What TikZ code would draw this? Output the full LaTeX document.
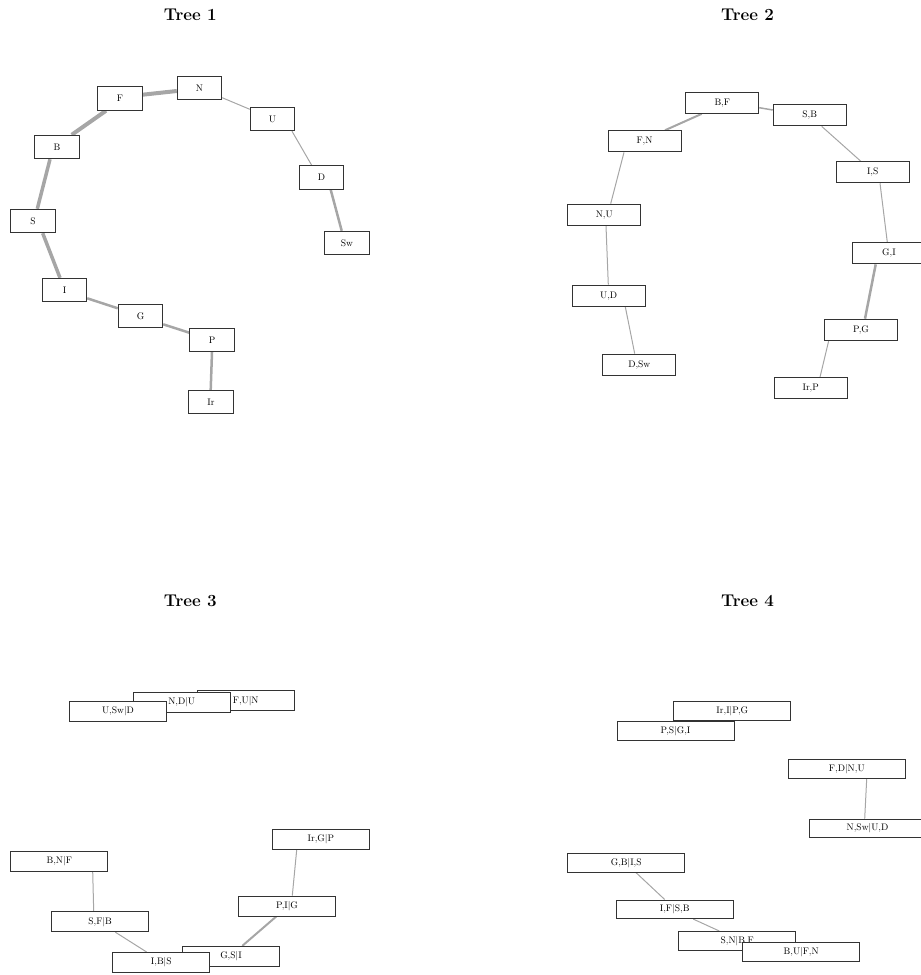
\documentclass[tikz,border=0pt]{standalone}
\usepackage{tikz}
\usetikzlibrary{backgrounds}
\tikzset{
  bloc/.style 2 args={rectangle, draw=black!80, fill=white, line width=0.9pt,
                      minimum width=#1, minimum height=#2, inner sep=0pt,
                      font=\fontsize{9.5}{10}\selectfont},
  lien/.style={draw=gray!70, line width=#1},
  titre/.style={anchor=base, font=\fontsize{17}{20}\selectfont\bfseries},
}

\begin{document}
\begin{tikzpicture}[x=1pt, y=-1pt]
\useasboundingbox (0,0) rectangle (921,975);
% titles
\node[titre] (t1) at (190.3,20.7) {Tree 1};
\node[titre] (t2) at (747.5,20.7) {Tree 2};
\node[titre] (t3) at (190.3,606) {Tree 3};
\node[titre] (t4) at (747.5,606) {Tree 4};
% Tree 1
\node[bloc={44.5pt}{23.5pt}] (aN) at (199.5,88) {N};
\node[bloc={44.5pt}{23.5pt}] (aU) at (272.5,119) {U};
\node[bloc={44.5pt}{23.5pt}] (aD) at (321.5,177.5) {D};
\node[bloc={44.5pt}{23.5pt}] (aSw) at (347,243) {Sw};
\node[bloc={44.5pt}{23.5pt}] (aF) at (120,98.5) {F};
\node[bloc={44.5pt}{23.5pt}] (aB) at (57,147) {B};
\node[bloc={44.5pt}{23.5pt}] (aS) at (33,221) {S};
\node[bloc={44.5pt}{23.5pt}] (aI) at (64.5,290) {I};
\node[bloc={44.5pt}{23.5pt}] (aG) at (140.5,316) {G};
\node[bloc={44.5pt}{23.5pt}] (aP) at (212,340) {P};
\node[bloc={44.5pt}{23.5pt}] (aIr) at (211,402) {Ir};
% Tree 2
\node[bloc={73pt}{21.2pt}] (bBF) at (722.3,102.8) {B,F};
\node[bloc={73pt}{21.2pt}] (bSB) at (809.7,115.3) {S,B};
\node[bloc={73pt}{21.2pt}] (bFN) at (644.5,141.3) {F,N};
\node[bloc={73pt}{21.2pt}] (bIS) at (872.7,172.2) {I,S};
\node[bloc={73pt}{21.2pt}] (bNU) at (604.2,214.7) {N,U};
\node[bloc={73pt}{21.2pt}] (bGI) at (889,253.3) {G,I};
\node[bloc={73pt}{21.2pt}] (bUD) at (608.7,295.7) {U,D};
\node[bloc={73pt}{21.2pt}] (bPG) at (861,329.7) {P,G};
\node[bloc={73pt}{21.2pt}] (bDSw) at (639.3,364.7) {D,Sw};
\node[bloc={73pt}{21.2pt}] (bIrP) at (810.7,388.2) {Ir,P};
% Tree 3
\node[bloc={97pt}{20pt}] (cFUN) at (245.7,700.7) {F,U|N};
\node[bloc={97pt}{20pt}] (cNDU) at (181.7,702.3) {N,D|U};
\node[bloc={97pt}{20pt}] (cUSwD) at (118,711.3) {U,Sw|D};
\node[bloc={97pt}{20pt}] (cBNF) at (59.3,861) {B,N|F};
\node[bloc={97pt}{20pt}] (cSFB) at (100.2,921.7) {S,F|B};
\node[bloc={97pt}{20pt}] (cGSI) at (231,956.3) {G,S|I};
\node[bloc={97pt}{20pt}] (cIBS) at (161.3,962.5) {I,B|S};
\node[bloc={97pt}{20pt}] (cPIG) at (287,906) {P,I|G};
\node[bloc={97pt}{20pt}] (cIrGP) at (320.8,839.3) {Ir,G|P};
% Tree 4
\node[bloc={117pt}{18.7pt}] (dIrIPG) at (732.3,710.8) {Ir,I|P,G};
\node[bloc={117pt}{18.7pt}] (dPSGI) at (675.5,731) {P,S|G,I};
\node[bloc={117pt}{18.7pt}] (dFDNU) at (846.8,768.8) {F,D|N,U};
\node[bloc={117pt}{18.7pt}] (dNSwUD) at (867.5,828.5) {N,Sw|U,D};
\node[bloc={117pt}{18.7pt}] (dGBIS) at (626.2,862.8) {G,B|I,S};
\node[bloc={117pt}{18.7pt}] (dIFSB) at (674.7,909.3) {I,F|S,B};
\node[bloc={117pt}{18.7pt}] (dSNBF) at (737.2,940.8) {S,N|B,F};
\node[bloc={117pt}{18.7pt}] (dBUFN) at (801.2,952) {B,U|F,N};
% edges behind the boxes
\begin{pgfonlayer}{background}
\draw[lien=4pt] ([yshift=3.8pt]aF.east) -- ([yshift=-3pt]aN.west);
\draw[lien=1pt] ([yshift=-9.7pt]aN.east) -- ([yshift=9.7pt]aU.west);
\draw[lien=1pt] ([xshift=19.5pt]aU.south) -- ([xshift=-9.8pt]aD.north);
\draw[lien=2.5pt] ([xshift=9.2pt]aD.south) -- ([xshift=-5.3pt]aSw.north);
\draw[lien=4pt] ([xshift=-14pt]aF.south) -- ([xshift=14.7pt]aB.north);
\draw[lien=3.5pt] ([xshift=-7pt]aB.south) -- ([xshift=4.3pt]aS.north);
\draw[lien=3.5pt] ([xshift=9.7pt]aS.south) -- ([xshift=-4.5pt]aI.north);
\draw[lien=2.5pt] ([yshift=-8.3pt]aI.east) -- ([yshift=7.7pt]aG.west);
\draw[lien=2.5pt] ([yshift=-8.3pt]aG.east) -- ([yshift=7.3pt]aP.west);
\draw[lien=2.5pt] (aP.south) -- ([xshift=-0.3pt]aIr.north);
\draw[lien=2pt] ([xshift=-20.6pt]bBF.south) -- ([xshift=20.5pt]bFN.north);
\draw[lien=1.5pt] ([yshift=-4.9pt]bBF.east) -- ([yshift=5.3pt]bSB.west);
\draw[lien=1pt] ([xshift=12pt]bSB.south) -- ([xshift=-12pt]bIS.north);
\draw[lien=1pt] ([xshift=7.3pt]bIS.south) -- ([xshift=-1.7pt]bGI.north);
\draw[lien=2.5pt] ([xshift=-13.3pt]bGI.south) -- ([xshift=4pt]bPG.north);
\draw[lien=1pt] ([xshift=-32.3pt]bPG.south) -- ([xshift=9.3pt]bIrP.north);
\draw[lien=1pt] ([xshift=-20.5pt]bFN.south) -- ([xshift=6.5pt]bNU.north);
\draw[lien=1pt] ([xshift=1.8pt]bNU.south) -- ([xshift=-0.4pt]bUD.north);
\draw[lien=1pt] ([xshift=16.6pt]bUD.south) -- ([xshift=-4.6pt]bDSw.north);
\draw[lien=1pt] (cUSwD) -- (cNDU);
\draw[lien=1pt] (cNDU) -- (cFUN);
\draw[lien=1pt] ([xshift=33.4pt]cBNF.south) -- ([xshift=-6.5pt]cSFB.north);
\draw[lien=1pt] ([xshift=15.1pt]cSFB.south) -- ([xshift=-14.6pt]cIBS.north);
\draw[lien=1pt] (cIBS) -- (cGSI);
\draw[lien=2pt] ([xshift=11.3pt]cGSI.north) -- ([xshift=-10.7pt]cPIG.south);
\draw[lien=1pt] ([xshift=5.3pt]cPIG.north) -- ([xshift=-24.1pt]cIrGP.south);
\draw[lien=1.5pt] (dIrIPG) -- (dPSGI);
\draw[lien=1pt] ([xshift=19.9pt]dFDNU.south) -- ([xshift=-2.8pt]dNSwUD.north);
\draw[lien=1pt] ([xshift=9.8pt]dGBIS.south) -- ([xshift=-10pt]dIFSB.north);
\draw[lien=1pt] ([xshift=18.6pt]dIFSB.south) -- ([xshift=-17.9pt]dSNBF.north);
\draw[lien=1pt] (dSNBF) -- (dBUFN);
\end{pgfonlayer}
\end{tikzpicture}
\end{document}
